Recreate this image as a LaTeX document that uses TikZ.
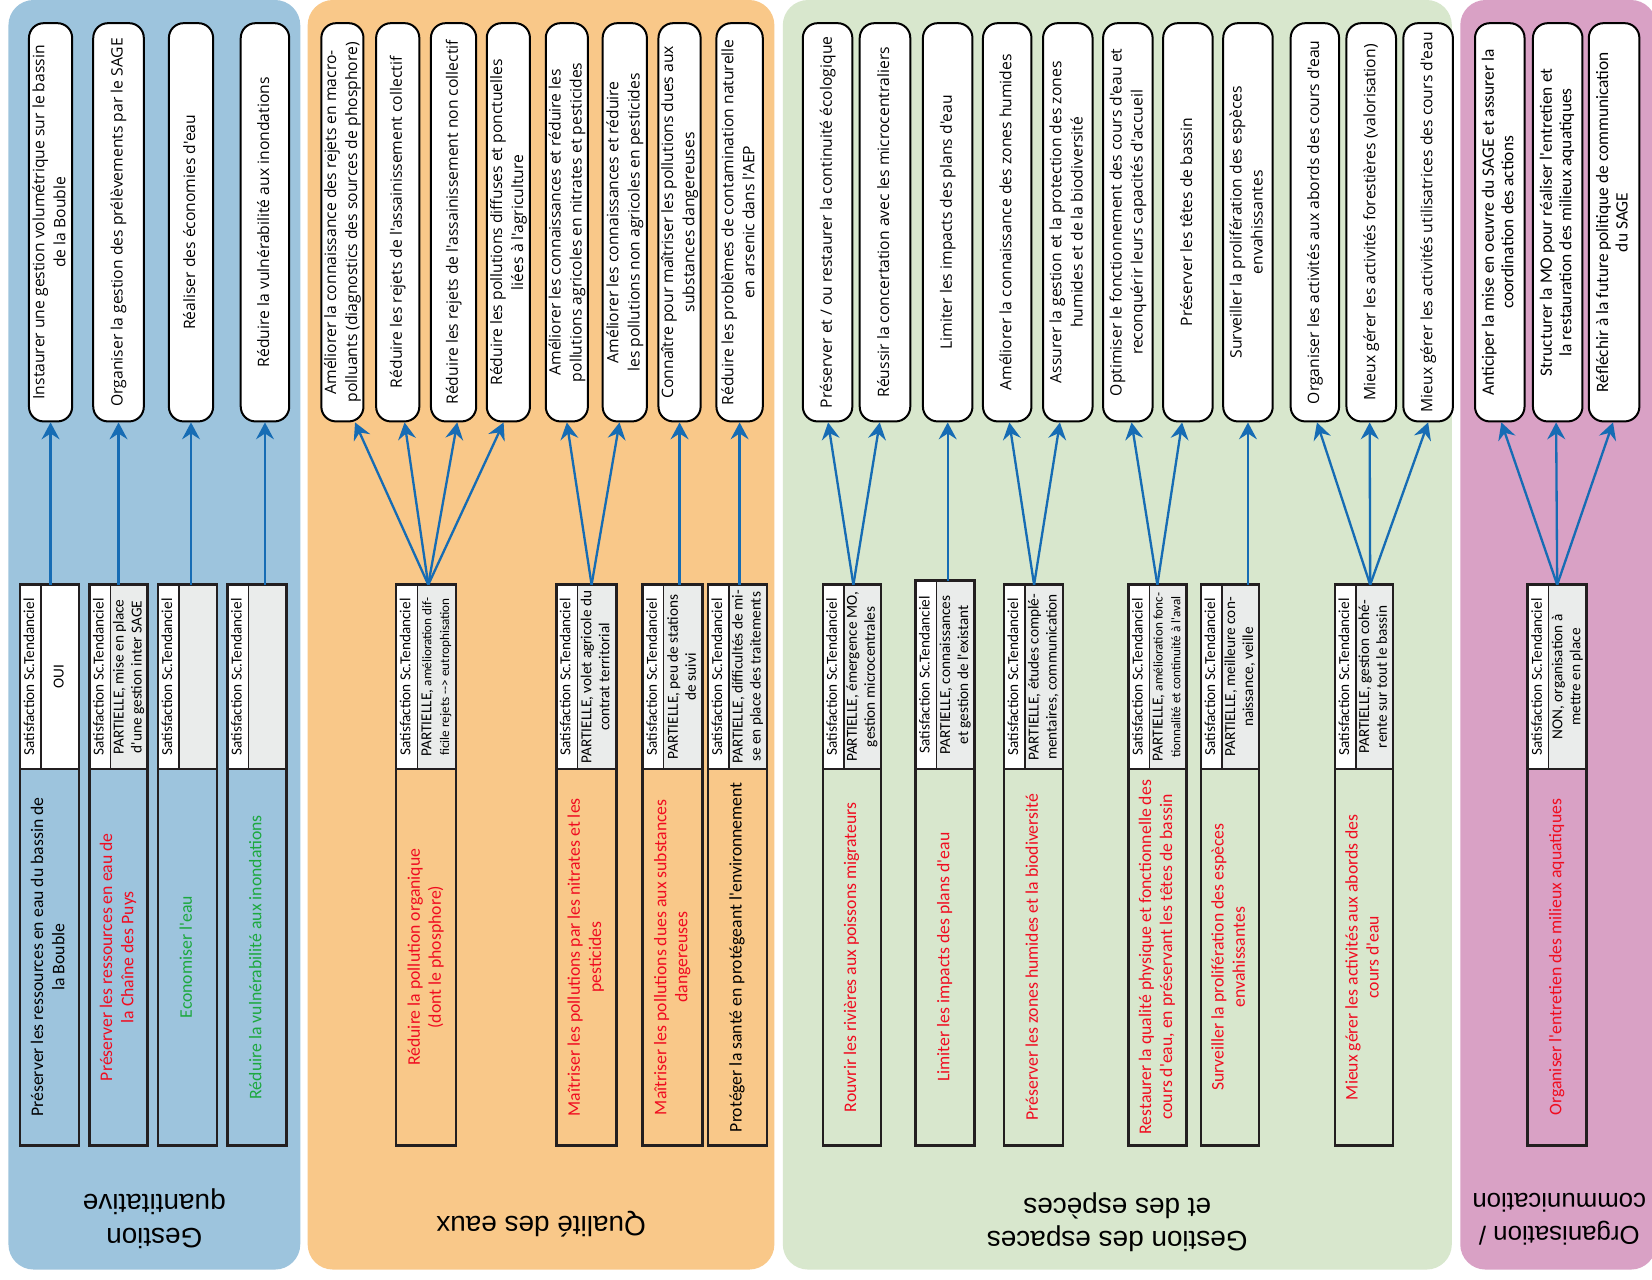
\documentclass[tikz,border=0pt]{standalone}
\usepackage{fontspec}
\usepackage{graphicx}
\usetikzlibrary{arrows.meta,calc}
\newfontfamily\ovf{Open Sans}
\newfontfamily\carl{Carlito}
\newfontfamily\ttlf{Liberation Sans}
\definecolor{bluepanel}{RGB}{157,196,221}
\definecolor{orangepanel}{RGB}{249,200,137}
\definecolor{greenpanel}{RGB}{216,231,205}
\definecolor{pinkpanel}{RGB}{217,161,197}
\definecolor{cellgray}{RGB}{234,236,235}
\definecolor{arrowblue}{RGB}{22,108,180}
\definecolor{framec}{RGB}{35,31,32}
\definecolor{txtred}{RGB}{240,12,32}
\definecolor{txtgreen}{RGB}{28,168,62}
\newcommand\rt[1]{\rotatebox{90}{\begin{tabular}{@{}c@{}}#1\end{tabular}}}
\newcommand\fOval{\ovf\fontsize{14.9}{20}\selectfont}
\newcommand\fPink{\carl\fontsize{16.5}{18.5}\selectfont}
\newcommand\fSat{\carl\fontsize{14.5}{17}\selectfont}
\newcommand\fMain{\carl\fontsize{16.8}{20}\selectfont}
\newcommand\fSm{\fontsize{12.5}{17}\selectfont}
\newcommand\fTitle{\ttlf\fontsize{26.5}{32}\selectfont}
\tikzset{
  oval/.style={draw=black, line width=1.9pt, fill=white, rounded corners=14pt,
    minimum height=378pt, inner sep=0pt, font=\fOval},
  satcell/.style={draw=framec, line width=1.3pt, fill=white, inner sep=0pt,
    outer sep=0pt, font=\fSat, anchor=north west},
  valcell/.style={draw=framec, line width=1.3pt, inner sep=0pt, outer sep=0pt,
    font=\fSat, anchor=north west},
  maincell/.style={inner sep=0pt, outer sep=0pt, font=\fMain, anchor=north west},
  boxframe/.style={draw=framec, line width=2.4pt, inner sep=0pt, outer sep=0pt,
    anchor=north west},
  arr/.style={draw=arrowblue, line width=2.2pt,
    -{Stealth[length=16pt,width=17pt,inset=5.5pt]}},
  paneltitle/.style={rotate=180, align=center, font=\fTitle, inner sep=0pt},
  panel/.style={rounded corners=24pt},
}
% oval: [style] name, center x, width, text
\newcommand\ovalnode[5][]{\node[oval,#1,minimum width=#4pt] (#2) at (#3,211) {\rt{#5}};}
% box: name, xleft, width, ytop, value fill, value text, main colour, main text
\newcommand\obox[8]{%
  \node[satcell, minimum width=20pt, minimum height={(730-#4)*1pt}] (#1s) at (#2,#4)
    {\rt{Satisfaction Sc.Tendanciel}};
  \node[valcell, fill=#5, minimum width={(#3-20)*1pt}, minimum height={(730-#4)*1pt}]
    (#1v) at ({#2+20},#4) {\rt{#6}};
  \node[maincell, text=#7, minimum width={#3*1pt}, minimum height=357pt] (#1m)
    at (#2,730) {\rt{#8}};
  \node[boxframe, minimum width={#3*1pt}, minimum height={(1087-#4)*1pt}] (#1)
    at (#2,#4) {};
}
\begin{document}
\begin{tikzpicture}[x=1pt,y=-1pt]
\fill[white] (0,0) rectangle (1568,1214);
\useasboundingbox (0,0) rectangle (1568,1214);
% panels
\fill[bluepanel,panel] (8,0) rectangle (285,1205);
\fill[orangepanel,panel] (292,0) rectangle (735,1205);
\fill[greenpanel,panel] (743,0) rectangle (1378,1205);
\fill[pinkpanel,panel] (1386,0) rectangle (1572,1205);
% titles
\node[paneltitle] (tq) at (146.5,1157) {Gestion\\quantitative};
\node[paneltitle] (te) at (513.5,1162) {Qualité des eaux};
\node[paneltitle] (tg) at (1060.5,1160) {Gestion des espaces\\et des espèces};
\node[paneltitle, font=\ttlf\fontsize{24.5}{31}\selectfont] (to) at (1480,1157) {Organisation /\\communication};

% ---------- Gestion quantitative ----------
\ovalnode{b1}{48}{41}{Instaurer une gestion volumétrique sur le bassin\\de la Bouble}
\ovalnode{b2}{112.5}{48}{Organiser la gestion des prélèvements par le SAGE}
\ovalnode{b3}{181.3}{42}{Réaliser des économies d'eau}
\ovalnode{b4}{251.5}{46}{Réduire la vulnérabilité aux inondations}
\obox{bb1}{19}{56}{555}{white}{OUI}{black}{Préserver les ressources en eau du bassin de\\la Bouble}
\obox{bb2}{85}{55}{555}{cellgray}{PARTIELLE, mise en place\\d'une gestion inter SAGE}{txtred}{Préserver les ressources en eau de\\la Chaîne des Puys}
\obox{bb3}{150}{56}{555}{cellgray}{}{txtgreen}{Economiser l'eau}
\obox{bb4}{216}{56}{555}{cellgray}{}{txtgreen}{Réduire la vulnérabilité aux inondations}

% ---------- Qualité des eaux ----------
\ovalnode{o1}{325}{39}{Améliorer la connaissance des rejets en macro-\\polluants (diagnostics des sources de phosphore)}
\ovalnode{o2}{377.5}{41}{Réduire les rejets de l'assainissement collectif}
\ovalnode{o3}{430.5}{43}{Réduire les rejets de l'assainissement non collectif}
\ovalnode{o4}{482.5}{41}{Réduire les pollutions diffuses et ponctuelles\\liées à l'agriculture}
\ovalnode{o5}{538}{40}{Améliorer les connaissances et réduire les\\pollutions agricoles en nitrates et pesticides}
\ovalnode{o6}{593}{42}{Améliorer les connaissances et réduire\\les pollutions non agricoles en pesticides}
\ovalnode{o7}{645}{40}{Connaître pour maîtriser les pollutions dues aux\\substances dangereuses}
\ovalnode{o8}{702}{44}{Réduire les problèmes de contamination naturelle\\en arsenic dans l'AEP}
\obox{ob1}{376}{57}{555}{cellgray}{PARTIELLE, {\fSm amélioration dif-}\\{\fSm ficile rejets -{}-{}> eutrophisation}}{txtred}{Réduire la pollution organique\\(dont le phosphore)}
\obox{ob2}{528}{57}{555}{cellgray}{PARTIELLE, volet agricole du\\contrat territorial}{txtred}{Maîtriser les pollutions par les nitrates et les\\pesticides}
\obox{ob3}{610}{57}{555}{cellgray}{PARTIELLE, peu de stations\\de suivi}{txtred}{Maîtriser les pollutions dues aux substances\\dangereuses}
\obox{ob4}{672}{56}{555}{cellgray}{PARTIELLE, difficultés de mi-\\se en place des traitements}{black}{Protéger la santé en protégeant l'environnement}

% ---------- Gestion des espaces et des espèces ----------
\ovalnode{g1}{785.5}{47}{Préserver et / ou restaurer la continuité écologique}
\ovalnode{g2}{840}{48}{Réussir la concertation avec les microcentraliers}
\ovalnode{g3}{899.5}{47}{Limiter les impacts des plans d'eau}
\ovalnode{g4}{956}{46}{Améliorer la connaissance des zones humides}
\ovalnode{g5}{1013.5}{47}{Assurer la gestion et la protection des zones\\humides et de la biodiversité}
\ovalnode{g6}{1070.5}{47}{Optimiser le fonctionnement des cours d'eau et\\reconquérir leurs capacités d'accueil}
\ovalnode{g7}{1127.5}{47}{Préserver les têtes de bassin}
\ovalnode{g8}{1184.5}{47}{Surveiller la prolifération des espèces\\envahissantes}
\ovalnode{g9}{1248}{46}{Organiser les activités aux abords des cours d'eau}
\ovalnode{g10}{1301.5}{47}{Mieux gérer les activités forestières (valorisation)}
\ovalnode{g11}{1355.5}{47}{Mieux gérer les activités utilisatrices des cours d'eau}
\obox{gb1}{781}{55}{555}{cellgray}{PARTIELLE, émergence MO,\\gestion microcentrales}{txtred}{Rouvrir les rivières aux poissons migrateurs}
\obox{gb2}{869}{56}{551}{cellgray}{PARTIELLE, connaissances\\et gestion de l'existant}{txtred}{Limiter les impacts des plans d'eau}
\obox{gb3}{953}{56}{555}{cellgray}{PARTIELLE, études complé-\\mentaires, communication}{txtred}{Préserver les zones humides et la biodiversité}
\obox{gb4}{1071}{55}{555}{cellgray}{PARTIELLE, {\fSm amélioration fonc-}\\{\fSm tionnalité et continuité à l'aval}}{txtred}{Restaurer la qualité physique et fonctionnelle des\\cours d'eau, en préservant les têtes de bassin}
\obox{gb5}{1140}{55}{555}{cellgray}{PARTIELLE, meilleure con-\\naissance, veille}{txtred}{Surveiller la prolifération des espèces\\envahissantes}
\obox{gb6}{1267}{55}{555}{cellgray}{PARTIELLE, gestion cohé-\\rente sur tout le bassin}{txtred}{Mieux gérer les activités aux abords des\\cours d'eau}

% ---------- Organisation / communication ----------
\ovalnode[font=\fPink]{p1}{1423.5}{47}{Anticiper la mise en oeuvre du SAGE et assurer la\\coordination des actions}
\ovalnode[font=\fPink]{p2}{1478.5}{47}{Structurer la MO pour réaliser l'entretien et\\la restauration des milieux aquatiques}
\ovalnode[font=\fPink]{p3}{1532}{48}{Réfléchir à la future politique de communication\\du SAGE}
\obox{pb}{1450}{56}{555}{cellgray}{NON, organisation à\\mettre en place}{txtred}{Organiser l'entretien des milieux aquatiques}

% ---------- arrows ----------
\draw[arr] (bb1.north -| b1.south) -- (b1.south);
\draw[arr] (bb2.north -| b2.south) -- (b2.south);
\draw[arr] (bb3.north -| b3.south) -- (b3.south);
\draw[arr] (bb4.north -| b4.south) -- (b4.south);

\draw[arr] ($(ob1.north)+(2,0)$) -- ($(o1.south)+(12,0)$);
\draw[arr] ($(ob1.north)+(2,0)$) -- ($(o2.south)+(6.5,0)$);
\draw[arr] ($(ob1.north)+(2,0)$) -- ($(o3.south)+(3.5,0)$);
\draw[arr] ($(ob1.north)+(2,0)$) -- ($(o4.south)+(-4.5,0)$);
\draw[arr] ($(ob2.north)+(5,0)$) -- (o5.south);
\draw[arr] ($(ob2.north)+(5,0)$) -- ($(o6.south)+(-5,0)$);
\draw[arr] (ob3.north -| o7.south) -- (o7.south);
\draw[arr] (ob4.north -| o8.south) -- (o8.south);

\draw[arr] ($(gb1.north)+(1.5,0)$) -- ($(g1.south)+(0.5,0)$);
\draw[arr] ($(gb1.north)+(1.5,0)$) -- ($(g2.south)+(-5,0)$);
\draw[arr] (gb2.north -| g3.south) -- (g3.south);
\draw[arr] ($(gb3.north)+(0.5,0)$) -- ($(g4.south)+(2,0)$);
\draw[arr] ($(gb3.north)+(0.5,0)$) -- ($(g5.south)+(-7.5,0)$);
\draw[arr] (gb4.north) -- ($(g6.south)+(3.5,0)$);
\draw[arr] (gb4.north) -- ($(g7.south)+(-5.5,0)$);
\draw[arr] (gb5.north -| g8.south) -- (g8.south);
\draw[arr] ($(gb6.north)+(6,0)$) -- ($(g9.south)+(2,0)$);
\draw[arr] ($(gb6.north)+(6,0)$) -- ($(g10.south)+(-1.5,0)$);
\draw[arr] ($(gb6.north)+(6,0)$) -- (g11.south);

\draw[arr] (pb.north) -- ($(p1.south)+(1.5,0)$);
\draw[arr] (pb.north) -- ($(p2.south)+(-1.5,0)$);
\draw[arr] (pb.north) -- ($(p3.south)+(-1,0)$);
\end{tikzpicture}
\end{document}
